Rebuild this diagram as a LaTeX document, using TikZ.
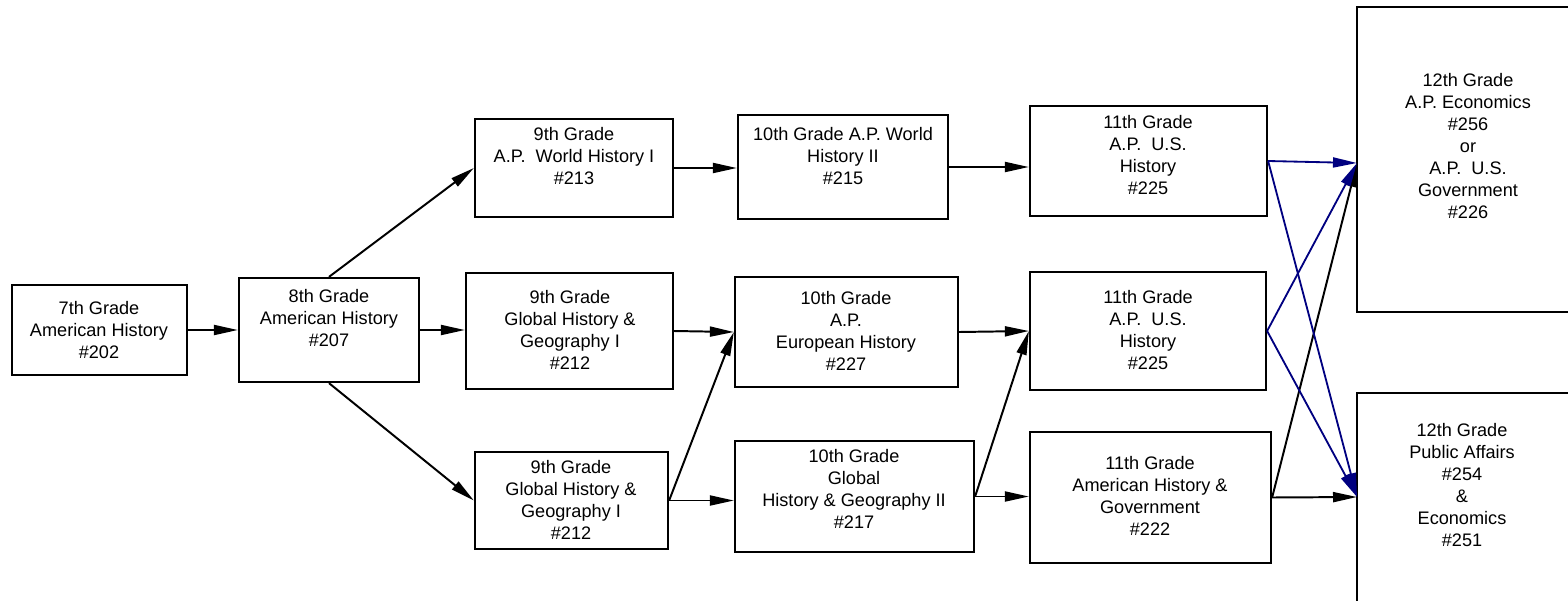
\documentclass[tikz,border=0pt]{standalone}
\usepackage{fontspec}
\setmainfont{Liberation Sans}
\usetikzlibrary{arrows.meta,fit}
\definecolor{navyline}{RGB}{0,0,128}
\tikzset{
  box/.style={draw=black, line width=1.6pt, inner sep=0pt},
  txt/.style={align=center, inner sep=0pt, font=\fontsize{12.9}{15.6}\selectfont},
  arr/.style={black, line width=1.4pt, -{Triangle[length=6mm,width=2.5mm]}},
  blu/.style={arr, navyline, line width=1.3pt}
}
\begin{document}
\begin{tikzpicture}[x=0.25mm, y=-0.25mm]
\useasboundingbox (0,0) rectangle (1568,600);
\clip (0,0) rectangle (1568,600);
% boxes, pixel corners
\node[box, fit={(12,285) (187,375)}] (g7) {};
\node[box, fit={(239,278) (419,382)}] (g8) {};
\node[box, fit={(475,119) (673,217)}] (ap9) {};
\node[box, fit={(466,273) (673,389)}] (gh9) {};
\node[box, fit={(475,452) (668,549)}] (gh9b) {};
\node[box, fit={(738,115) (948,219)}] (ap10) {};
\node[box, fit={(735,277) (958,387)}] (eu10) {};
\node[box, fit={(735,441) (974,552)}] (gl10) {};
\node[box, fit={(1030,106) (1267,216)}] (ap11t) {};
\node[box, fit={(1030,272) (1266,390)}] (ap11m) {};
\node[box, fit={(1030,432) (1271,563)}] (ah11) {};
\node[box, fit={(1357,7) (1580,312)}] (ec12) {};
\node[box, fit={(1357,393) (1580,612)}] (pa12) {};
\coordinate (ecin) at (1357,163);
\coordinate (pain) at (1357,497);
% texts
\node[txt] (g7t) at (99,330) {7th Grade\\American History\\\#202};
\node[txt] (g8t) at (329,318) {8th Grade\\American History\\\#207};
\node[txt] (ap9t) at (574,156) {9th Grade\\A.P.~~World History I\\\#213};
\node[txt] (gh9t) at (570,330) {9th Grade\\Global History \&\\Geography I\\\#212};
\node[txt] (gh9bt) at (571,500) {9th Grade\\Global History \&\\Geography I\\\#212};
\node[txt] (ap10t) at (843,156) {10th Grade A.P. World\\History II\\\#215};
\node[txt] (eu10t) at (846,331) {10th Grade\\A.P.\\European History\\\#227};
\node[txt] (gl10t) at (854,489) {10th Grade\\Global\\History \& Geography II\\\#217};
\node[txt] (ap11tt) at (1148,155) {11th Grade\\A.P.~~U.S.\\History\\\#225};
\node[txt] (ap11mt) at (1148,330) {11th Grade\\A.P.~~U.S.\\History\\\#225};
\node[txt] (ah11t) at (1150,496) {11th Grade\\American History \&\\Government\\\#222};
\node[txt] (ec12t) at (1468,146) {12th Grade\\A.P. Economics\\\#256\\or\\A.P.~~U.S.\\Government\\\#226};
\node[txt] (pa12t) at (1462,485) {12th Grade\\Public Affairs\\\#254\\\&\\Economics\\\#251};
% connectors
\draw[arr] (g7.east) -- (g8.west);
\draw[arr] (g8.north) -- (ap9.west);
\draw[arr] (g8.east) -- (g8.east -| gh9.west);
\draw[arr] (g8.south) -- (gh9b.west);
\draw[arr] (ap9.east) -- (ap9.east -| ap10.west);
\draw[arr] (gh9.east) -- (eu10.west);
\draw[arr] (gh9b.east) -- (eu10.west);
\draw[arr] (gh9b.east) -- (gh9b.east -| gl10.west);
\draw[arr] (ap10.east) -- (ap10.east -| ap11t.west);
\draw[arr] (eu10.east) -- (ap11m.west);
\draw[arr] (gl10.east) -- (ap11m.west);
\draw[arr] (gl10.east) -- (gl10.east -| ah11.west);
\draw[arr] (ah11.east) -- (ecin);
\draw[arr] (ah11.east) -- (pain);
\draw[blu] (ap11t.east) -- (ecin);
\draw[blu] (ap11t.east) -- (pain);
\draw[blu] (ap11m.east) -- (ecin);
\draw[blu] (ap11m.east) -- (pain);
\end{tikzpicture}
\end{document}
